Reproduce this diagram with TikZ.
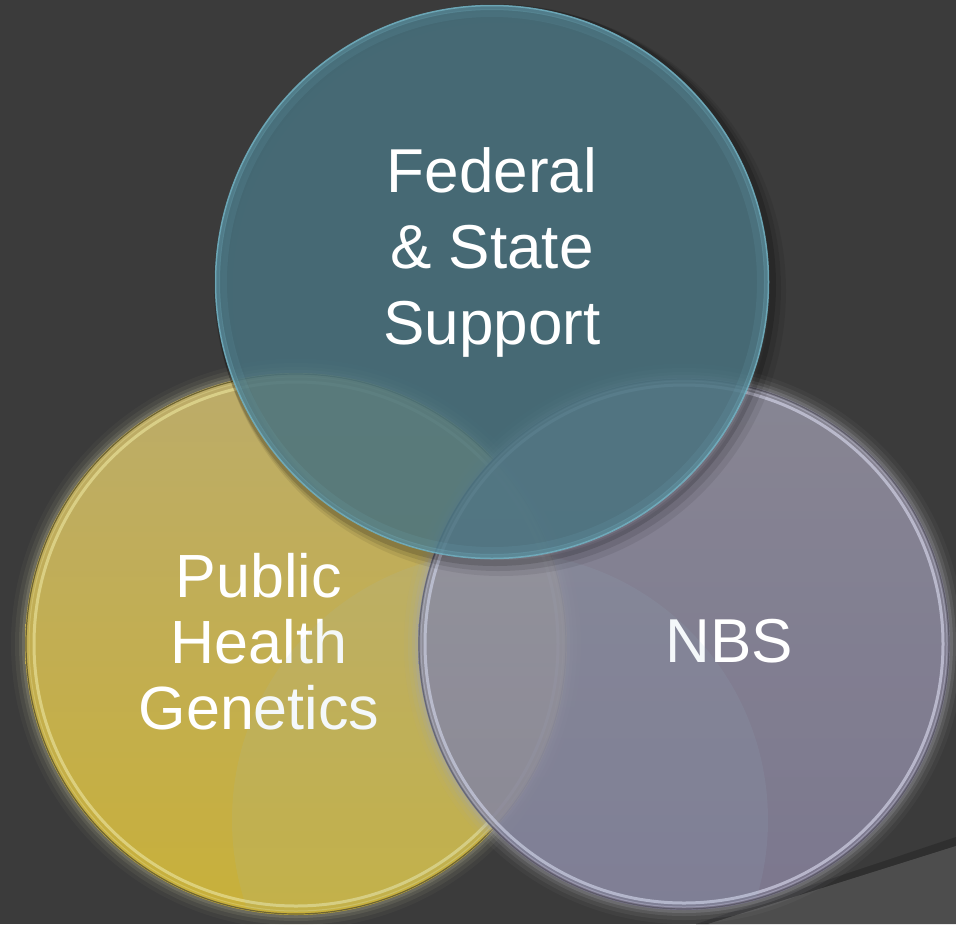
\documentclass[tikz,border=0pt]{standalone}
\usepackage{fontspec}
\setmainfont{Liberation Sans}
\definecolor{bgc}{HTML}{3B3B3B}
\definecolor{wedgec}{HTML}{4D4D4D}
\definecolor{wedgesh}{HTML}{2F2F2F}
\definecolor{ytop}{HTML}{BCAC6A}
\definecolor{ymid}{HTML}{A48F42}
\definecolor{ybot}{HTML}{C8B03A}
\definecolor{yrim}{HTML}{E6DE96}
\definecolor{yline}{HTML}{6E6432}
\definecolor{yglow}{HTML}{A8A488}
\definecolor{ptop}{HTML}{8E8C9C}
\definecolor{pmid}{HTML}{838094}
\definecolor{pbot}{HTML}{807B96}
\definecolor{prim}{HTML}{D0D0E4}
\definecolor{pline}{HTML}{55535F}
\definecolor{pglow}{HTML}{A4A4AC}
\definecolor{tfill}{HTML}{48727F}
\definecolor{trim}{HTML}{7CC0D2}
\definecolor{refl}{HTML}{9CC0D4}
\tikzset{
  lbl/.style={text=white, align=center, inner sep=0pt},
  bigfont/.style={font=\fontsize{62}{76}\selectfont},
  midfont/.style={font=\fontsize{61}{66}\selectfont},
}
\begin{document}
\begin{tikzpicture}[x=1pt,y=-1pt]
\useasboundingbox (0,0) rectangle (956,924);
\fill[bgc] (0,0) rectangle (956,924);
% slide corner decoration
\fill[wedgesh] (696,924) -- (956,837) -- (956,846) -- (708,924) -- cycle;
\fill[wedgec] (708,924) -- (956,846) -- (956,924) -- cycle;

\coordinate (cY) at (296,644);
\coordinate (cP) at (684,644);
\coordinate (cT) at (492,282);
\coordinate (cR) at (500,820);

% ---------- yellow circle ----------
\foreach \w/\o in {14/0.06,10/0.10,6/0.16,3/0.25}{
  \fill[yglow, opacity=\o] (cY) circle[radius=271pt+\w pt];
}
\shade[top color=ytop, middle color=ymid, bottom color=ybot] (cY) circle[radius=271pt];
\draw[yline, line width=1.2pt] (cY) circle[radius=270pt];
\draw[yrim, line width=3pt, opacity=0.7] (cY) circle[radius=262pt];
\draw[yrim, line width=1pt, opacity=0.35] (cY) circle[radius=267pt];

% ---------- purple circle ----------
\foreach \w/\o in {14/0.06,10/0.10,6/0.16,3/0.25}{
  \fill[pglow, opacity=\o] (cP) circle[radius=266pt+\w pt];
}
\shade[top color=ptop, middle color=pmid, bottom color=pbot, opacity=0.82] (cP) circle[radius=266pt];
\draw[pline, line width=1.2pt, opacity=0.8] (cP) circle[radius=265pt];
\draw[prim, line width=3pt, opacity=0.7] (cP) circle[radius=259pt];
\draw[prim, line width=1pt, opacity=0.35] (cP) circle[radius=263pt];

% ---------- labels of the lower circles ----------
\node[lbl, midfont] (phg) at (259,642) {Public\\Health\\Genetics};
\node[lbl, bigfont] (nbs) at (729,641) {NBS};

% ---------- reflection ----------
\begin{scope}
  \clip (cY) circle[radius=268pt] (cP) circle[radius=263pt];
  \fill[refl, opacity=0.10] (cR) circle[radius=268pt];
\end{scope}

% ---------- teal circle ----------
\foreach \w/\o/\lw in {3/0.14/8,6/0.10/12,9/0.07/16}{
  \draw[black, opacity=\o, line width=\lw pt] ([shift={(\w,\w)}]cT) circle[radius=277pt];
}
\fill[tfill, opacity=0.85] (cT) circle[radius=277pt];
\draw[trim, line width=8pt, opacity=0.10] (cT) circle[radius=269pt];
\draw[trim, line width=4pt, opacity=0.25] (cT) circle[radius=274pt];
\draw[trim, line width=1.5pt, opacity=0.7] (cT) circle[radius=276.5pt];

\node[lbl, bigfont] (fss) at (492,252) {Federal\\\& State\\Support};
\end{tikzpicture}
\end{document}
